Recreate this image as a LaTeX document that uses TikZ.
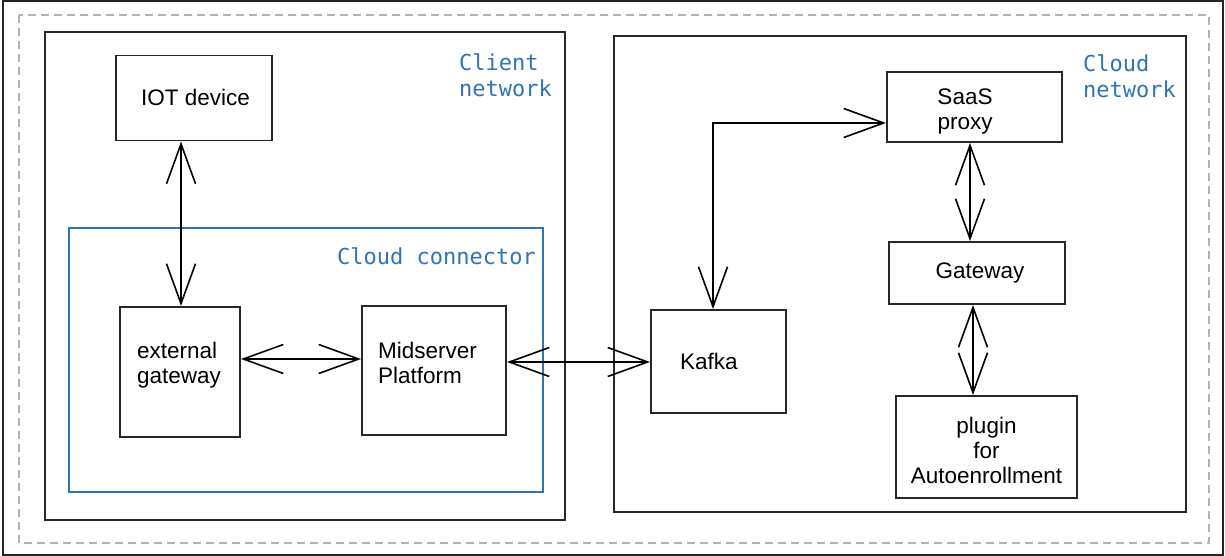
\documentclass[tikz,border=0pt]{standalone}
\usepackage{fontspec}
\setmainfont{Liberation Sans}
\newfontfamily\labelmono{DejaVu Sans Mono}
\usetikzlibrary{arrows.meta}
\definecolor{netblue}{RGB}{47,117,182}
\definecolor{boxgray}{RGB}{40,40,40}
\tikzset{
  boxtext/.style={font=\fontsize{22.5}{25}\selectfont, inner sep=0pt},
  compbox/.style={draw=boxgray, line width=1.9pt, inner sep=0pt},
  netbox/.style={draw=boxgray, line width=2.4pt, inner sep=0pt},
  connbox/.style={draw=netblue, line width=2pt, inner sep=0pt},
  netlabel/.style={text=netblue, font=\labelmono\fontsize{22}{26}\selectfont, inner sep=0pt, align=left},
  link/.style={line width=1.5pt, black, {Straight Barb[length=40pt,width=29pt,line width=1.6pt]}-{Straight Barb[length=40pt,width=29pt,line width=1.6pt]}}
}
\begin{document}
\begin{tikzpicture}[x=1pt,y=-1pt]
\useasboundingbox (0,0) rectangle (1225,556);
\fill[white] (0,0) rectangle (1225,556);
% outer frame and dashed border
\draw[line width=1.5pt, black!85] (3,1) rectangle (1223,555);
\draw[black!30, line width=1.2pt, dash pattern=on 8pt off 5pt] (19,15) rectangle (1209,543);
% containers
\node[netbox, minimum width=520pt, minimum height=488pt] (client) at (305,276) {};
\node[connbox, minimum width=474pt, minimum height=264pt] (connector) at (306,360) {};
\node[netbox, minimum width=572pt, minimum height=476pt] (cloud) at (900,274) {};
% container labels
\node[netlabel, anchor=west] (clientlbl) at (459,75) {Client\\network};
\node[netlabel, anchor=east] (connlbl) at (536,256) {Cloud connector};
\node[netlabel, anchor=west] (cloudlbl) at (1083,76) {Cloud\\network};
% components (boxes)
\node[compbox, minimum width=156pt, minimum height=85pt] (iot) at (194,98) {};
\node[compbox, minimum width=120pt, minimum height=130pt] (extgw) at (180,372) {};
\node[compbox, minimum width=144pt, minimum height=129pt] (mid) at (434,370.5) {};
\node[compbox, minimum width=135pt, minimum height=103pt] (kafka) at (718.5,361.5) {};
\node[compbox, minimum width=175pt, minimum height=70pt] (saas) at (974.5,107) {};
\node[compbox, minimum width=176pt, minimum height=62pt] (gw) at (977,273) {};
\node[compbox, minimum width=181pt, minimum height=102pt] (plugin) at (986.5,447) {};
% component texts
\node[boxtext] (iottext) at (195.5,97) {IOT device};
\node[boxtext, align=left, anchor=west] (extgwtext) at (137,365.5) {external\\gateway};
\node[boxtext, align=left, anchor=west] (midtext) at (378,362.5) {Midserver\\Platform};
\node[boxtext, anchor=west] (kafkatext) at (680,361) {Kafka};
\node[boxtext, align=center] (saastext) at (965,111) {SaaS\\proxy};
\node[boxtext] (gwtext) at (980,273) {Gateway};
\node[boxtext, align=center] (plugintext) at (986.5,450) {plugin\\for\\Autoenrollment};
% connectors
\draw[link] (iot.south -| 181,0) -- (extgw.north -| 181,0);
\draw[link] (extgw.east |- 0,359) -- (mid.west |- 0,359);
\draw[link] (mid.east |- 0,362) -- (kafka.west |- 0,362);
\draw[link] (saas.west |- 0,123) -| (kafka.north -| 713,0);
\draw[link] (saas.south -| 970,0) -- (gw.north -| 970,0);
\draw[link] (gw.south -| 973,0) -- (plugin.north -| 973,0);
\end{tikzpicture}
\end{document}
